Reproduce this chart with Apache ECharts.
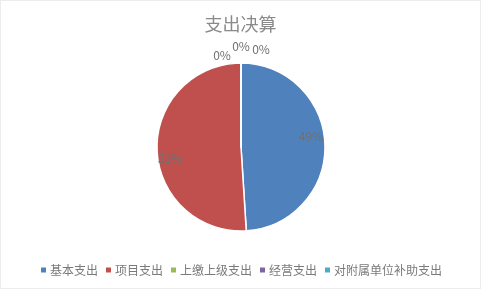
<!DOCTYPE html>
<html>
<head>
<meta charset="utf-8">
<script src="https://cdn.jsdelivr.net/npm/echarts@6/dist/echarts.min.js"></script>
<style>
  html, body { margin: 0; padding: 0; background: #fff; }
  #chart { width: 479px; height: 287px; border: 1px solid #ececec; }
</style>
</head>
<body>
<div id="chart"></div>
<script>
// 图表数据
var titleText = '支出决算';
var categories = ['基本支出', '项目支出', '上缴上级支出', '经营支出', '对附属单位补助支出'];
var values = [49, 51, 0, 0, 0];
var colors = ['#4f81bd', '#c0504d', '#9bbb59', '#8064a2', '#4bacc6'];

// 标签偏移（模仿Excel的标签位置）
var labelShift = [[25, -9], [-26, 10], [-19, -47], [0, -56], [20, -53]];

var data = [];
categories.forEach(function (name, i) {
  data.push({ name: name, value: values[i] });
});

var myChart = echarts.init(document.getElementById('chart'));
myChart.setOption({
  backgroundColor: '#fff',
  color: colors,
  animation: false,
  title: {
    text: titleText,
    left: 'center',
    top: 9,
    textStyle: {
      fontFamily: 'Noto Sans CJK SC',
      fontSize: 18,
      fontWeight: 'normal',
      color: '#8a8a8a'
    }
  },
  legend: {
    bottom: 7,
    left: 'center',
    itemWidth: 7,
    itemHeight: 7,
    itemGap: 6,
    icon: 'rect',
    textStyle: {
      fontFamily: 'Noto Sans CJK SC',
      fontSize: 12,
      color: '#7a7a7a',
      padding: [0, 0, 0, -2]
    },
    data: categories
  },
  series: [{
    type: 'pie',
    center: [240, 146],
    radius: 84,
    startAngle: 90,
    clockwise: true,
    avoidLabelOverlap: false,
    itemStyle: {
      borderColor: '#fff',
      borderWidth: 1.5
    },
    label: {
      show: true,
      position: 'inside',
      formatter: '{d}%',
      fontFamily: 'Noto Sans CJK SC',
      fontSize: 12,
      color: '#707070'
    },
    labelLine: { show: false },
    labelLayout: function (params) {
      var s = labelShift[params.dataIndex];
      return { dx: s[0], dy: s[1] };
    },
    data: data
  }]
});
</script>
</body>
</html>
